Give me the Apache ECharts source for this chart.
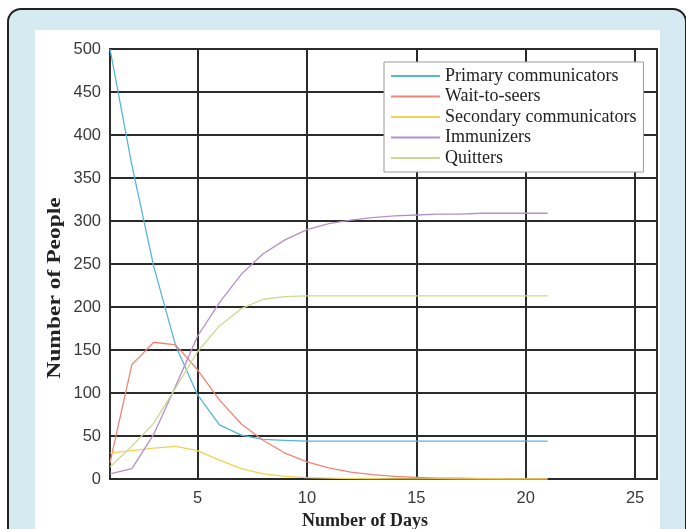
<!DOCTYPE html>
<html>
<head>
<meta charset="utf-8">
<script src="https://cdn.jsdelivr.net/npm/echarts@6/dist/echarts.min.js"></script>
<style>
  html, body { margin: 0; padding: 0; background: #fff; }
  #wrap { position: relative; width: 686px; height: 529px; overflow: hidden; }
  #frame { position: absolute; left: 7px; top: 8px; width: 676px; height: 540px;
           border: 2px solid #222; border-radius: 14px; background: #d6ebf1; }
  #panel { position: absolute; left: 35px; top: 30px; width: 625px; height: 510px; background: #fff; }
  #main { position: absolute; left: 0; top: 0; width: 686px; height: 529px; }
</style>
</head>
<body>
<div id="wrap">
  <div id="frame"></div>
  <div id="panel"></div>
  <div id="main"></div>
</div>
<script>
const days = [1, 2, 3, 4, 5, 6, 7, 8, 9, 10, 11, 12, 13, 14, 15, 16, 17, 18, 19, 20, 21];
const primary = [500, 365, 247, 155, 98, 63, 51, 46, 45, 44, 44, 44, 44, 44, 44, 44, 44, 44, 44, 44, 44];
const waitToSeers = [19, 133, 159, 156, 127, 92, 64, 45, 30, 20, 13, 8, 5, 3, 2, 1, 1, 0.5, 0.3, 0.2, 0.1];
const secondary = [30, 33, 36, 38, 33, 22, 12, 6, 3, 1.5, 1, 0.5, 0.3, 0.2, 0.1, 0.1, 0, 0, 0, 0, 0];
const immunizers = [6, 12, 52, 108, 166, 205, 238, 262, 278, 290, 297, 301, 304, 306, 307, 308, 308, 309, 309, 309, 309];
const quitters = [14, 38, 65, 106, 148, 178, 198, 209, 212, 213, 213, 213, 213, 213, 213, 213, 213, 213, 213, 213, 213];
const xTicks = [5, 10, 15, 20, 25];

const names = ['Primary communicators', 'Wait-to-seers', 'Secondary communicators', 'Immunizers', 'Quitters'];
const colors = ['#56b6d6', '#f28474', '#f1d250', '#b58fcb', '#c9da92'];
const values = [primary, waitToSeers, secondary, immunizers, quitters];

function pairs(ys) {
    return days.map((d, i) => [d, ys[i]]);
}

const chart = echarts.init(document.getElementById('main'));

const gridLine = { show: true, lineStyle: { color: '#2a2a2a', width: 2 } };
const tickFont = { fontFamily: 'Liberation Sans', fontSize: 16.5, color: '#3a3a3a' };

chart.setOption({
    animation: false,
    grid: { left: 110, right: 29, top: 49, bottom: 50 },
    legend: {
        orient: 'vertical',
        left: 384,
        top: 62,
        padding: [5, 7, 5, 7],
        backgroundColor: '#fff',
        borderColor: '#9a9a9a',
        borderWidth: 1,
        itemWidth: 49,
        itemHeight: 2,
        itemGap: 2.5,
        icon: 'rect',
        textStyle: { fontFamily: 'Liberation Serif', fontSize: 18, color: '#222', lineHeight: 16 },
        data: names
    },
    xAxis: {
        type: 'value',
        min: 1,
        max: 26,
        axisLine: { show: true, onZero: false, lineStyle: { color: '#2a2a2a', width: 2 } },
        axisTick: { show: false, customValues: xTicks },
        axisLabel: Object.assign({ customValues: xTicks, margin: 11 }, tickFont),
        splitLine: gridLine
    },
    yAxis: {
        type: 'value',
        min: 0,
        max: 500,
        interval: 50,
        axisLine: { show: true, lineStyle: { color: '#2a2a2a', width: 2 } },
        axisTick: { show: false },
        axisLabel: Object.assign({ margin: 9 }, tickFont),
        splitLine: gridLine
    },
    graphic: [
        {
            type: 'rect',
            shape: { x: 110, y: 49, width: 547, height: 430 },
            style: { fill: 'none', stroke: '#2a2a2a', lineWidth: 2 },
            silent: true
        },
        {
            type: 'text',
            x: 55, y: 288,
            rotation: Math.PI / 2,
            scaleX: 1.27,
            style: {
                text: 'Number of People',
                font: 'bold 18.5px "Liberation Serif"',
                fill: '#222',
                align: 'center',
                verticalAlign: 'middle'
            }
        },
        {
            type: 'text',
            x: 365, y: 521,
            style: {
                text: 'Number of Days',
                font: 'bold 18px "Liberation Serif"',
                fill: '#222',
                align: 'center',
                verticalAlign: 'middle'
            }
        }
    ],
    series: names.map((n, i) => ({
        name: n,
        type: 'line',
        data: pairs(values[i]),
        showSymbol: false,
        color: colors[i],
        lineStyle: { width: 1.3 },
        z: 5
    }))
});
</script>
</body>
</html>
